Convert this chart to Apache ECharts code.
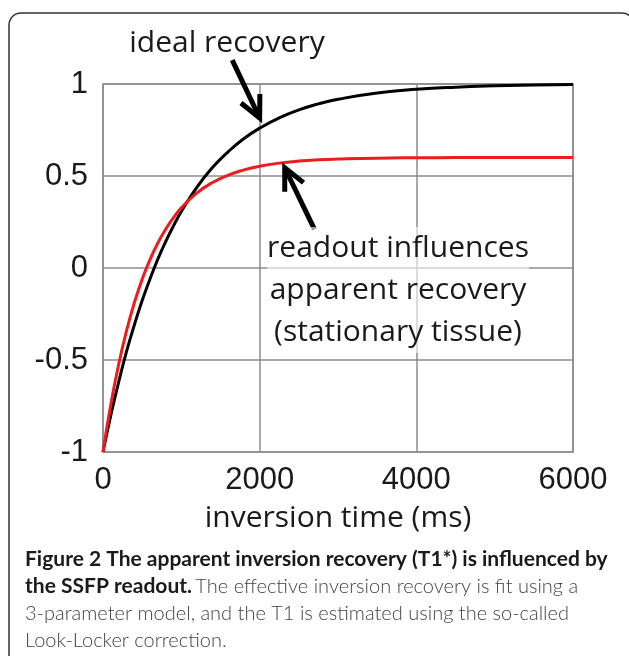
<!DOCTYPE html>
<html>
<head>
<meta charset="utf-8">
<script src="https://cdn.jsdelivr.net/npm/echarts@6/dist/echarts.min.js"></script>
<style>html,body{margin:0;padding:0;background:#fff;}#c{width:629px;height:656px;}</style>
</head>
<body>
<div id="c"></div>
<script>
// inversion time (ms)
const times = [0,100,200,300,400,500,600,700,800,900,1000,1200,1400,1600,1800,2000,2250,2500,2750,3000,3500,4000,4500,5000,5500,6000];
// ideal recovery (black)
const ideal = [-1,-0.80,-0.62,-0.455,-0.31,-0.177,-0.06,0.048,0.143,0.229,0.307,0.44,0.547,0.633,0.704,0.76,0.816,0.859,0.892,0.917,0.951,0.971,0.983,0.99,0.994,0.997];
// apparent recovery (red)
const apparent = [-1,-0.74,-0.524,-0.342,-0.189,-0.061,0.046,0.136,0.211,0.274,0.327,0.408,0.465,0.505,0.533,0.553,0.57,0.581,0.588,0.592,0.597,0.599,0.6,0.6,0.6,0.6];
const xTicks = [0, 2000, 4000, 6000];
const yTicks = [-1, -0.5, 0, 0.5, 1];

const chart = echarts.init(document.getElementById('c'), null, {renderer:'canvas'});
const pair = (xs, ys) => xs.map((x,i)=>[x, ys[i]]);
const tickFont = 'Liberation Sans, Arial, sans-serif';
const annFont = '"Open Sans", sans-serif';

chart.setOption({
  animation:false,
  backgroundColor:'#fff',
  grid:{left:103, top:84, width:470, height:368, show:true, borderColor:'#8c8c8c', borderWidth:1.5, containLabel:false},
  xAxis:{type:'value', min:xTicks[0], max:xTicks[xTicks.length-1], interval:2000,
    name:'inversion time (ms)', nameLocation:'middle', nameGap:51,
    nameTextStyle:{fontFamily:annFont, fontSize:30, color:'#1a1a1a'},
    axisLine:{show:false}, axisTick:{show:false},
    axisLabel:{fontFamily:tickFont, fontSize:31, color:'#1a1a1a', margin:13, formatter:v=>String(v)},
    splitLine:{show:true, lineStyle:{color:'#8c8c8c', width:1.5}}},
  yAxis:{type:'value', min:yTicks[0], max:yTicks[yTicks.length-1], interval:0.5,
    axisLine:{show:false}, axisTick:{show:false},
    axisLabel:{fontFamily:tickFont, fontSize:31, color:'#1a1a1a', margin:15, formatter:v=>String(v)},
    splitLine:{show:true, lineStyle:{color:'#8c8c8c', width:1.5}}},
  series:[
    {type:'line', data:pair(times, ideal), smooth:true, showSymbol:false, lineStyle:{color:'#000', width:3}, z:3},
    {type:'line', data:pair(times, apparent), smooth:true, showSymbol:false, lineStyle:{color:'#ee1c1c', width:3}, z:4}
  ]
});

// annotation arrows in data coordinates: [tail, tip]
const arrows = [
  [[1650, 1.13], [2000, 0.815]],
  [[2700, 0.21], [2320, 0.545]]
];
const g = [];
arrows.forEach(a => {
  const p0 = chart.convertToPixel({gridIndex:0}, a[0]);
  const p1 = chart.convertToPixel({gridIndex:0}, a[1]);
  const ang = Math.atan2(p1[1]-p0[1], p1[0]-p0[0]);
  const L = 24, spread = 0.45;
  const w1 = [p1[0]-L*Math.cos(ang-spread), p1[1]-L*Math.sin(ang-spread)];
  const w2 = [p1[0]-L*Math.cos(ang+spread), p1[1]-L*Math.sin(ang+spread)];
  g.push({type:'polyline', shape:{points:[p0, p1]}, style:{stroke:'#000', lineWidth:5, fill:null}, z:10});
  g.push({type:'polyline', shape:{points:[w1, p1, w2]}, style:{stroke:'#000', lineWidth:5, fill:null, lineJoin:'miter'}, z:10});
});
// text annotations
g.push({type:'text', x:227, y:43, z:11, style:{text:'ideal recovery', font:'30px "Open Sans", sans-serif', fill:'#1a1a1a', align:'center', verticalAlign:'middle'}});
g.push({type:'text', x:398, y:290, z:11, style:{text:'readout influences\napparent recovery\n(stationary tissue)', font:'30px "Open Sans", sans-serif', fill:'#1a1a1a', align:'center', verticalAlign:'middle', lineHeight:42, backgroundColor:'rgba(255,255,255,0.6)'}});
// frame
g.push({type:'rect', shape:{x:9, y:13, width:625, height:670, r:12}, style:{stroke:'#333', lineWidth:1.5, fill:null}, z:20});
// caption
g.push({type:'text', x:25, y:546, z:11, style:{
  text:'{b|Figure 2 The apparent inversion recovery (T1*) is influenced by}\n{b|the SSFP readout.} {n|The effective inversion recovery is fit using a}\n{n|3-parameter model, and the T1 is estimated using the so-called}\n{n|Look-Locker correction.}',
  rich:{
    b:{fontFamily:'Lato, sans-serif', fontWeight:'bold', fontSize:21, fill:'#1a1a1a', lineHeight:27},
    n:{fontFamily:'Lato, sans-serif', fontWeight:300, fontSize:20, fill:'#444', lineHeight:27}
  }}});
chart.setOption({graphic:g});
</script>
</body>
</html>
